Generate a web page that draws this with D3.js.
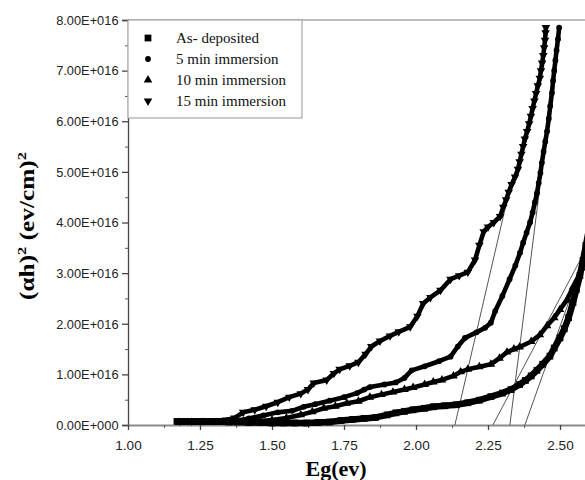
<!DOCTYPE html>
<html>
<head>
<meta charset="utf-8">
<script src="https://cdn.jsdelivr.net/npm/d3@7"></script>
<style>
  html, body { margin: 0; padding: 0; background: #fff; }
  svg { display: block; }
</style>
</head>
<body>
<svg id="chart" width="585" height="480"></svg>
<script>
// Tauc plot: (αh)² versus photon energy for the film series
const xTicks = [1.00, 1.25, 1.50, 1.75, 2.00, 2.25, 2.50];
const xTickLabels = ["1.00", "1.25", "1.50", "1.75", "2.00", "2.25", "2.50"];
const xMinorTicks = [1.125, 1.375, 1.625, 1.875, 2.125, 2.375];
const yTicks = [0, 1, 2, 3, 4, 5, 6, 7, 8];               // units of 1E16
const yTickLabels = ["0.00E+000", "1.00E+016", "2.00E+016", "3.00E+016", "4.00E+016",
                     "5.00E+016", "6.00E+016", "7.00E+016", "8.00E+016"];
const yMinorTicks = [0.5, 1.5, 2.5, 3.5, 4.5, 5.5, 6.5, 7.5];

const seriesNames = ["As- deposited", "5 min immersion", "10 min immersion", "15 min immersion"];

// [Eg (eV), (αh)² in units of 1E16]
const asDeposited = [
  [1.17,0.07],[1.20,0.07],[1.23,0.07],[1.26,0.07],[1.29,0.07],[1.32,0.07],[1.35,0.06],[1.38,0.06],
  [1.42,0.05],[1.46,0.05],[1.50,0.04],[1.54,0.04],[1.58,0.04],[1.62,0.04],[1.66,0.05],[1.70,0.06],
  [1.74,0.09],[1.78,0.11],[1.82,0.13],[1.86,0.15],[1.90,0.20],[1.93,0.24],[1.96,0.27],[1.99,0.30],
  [2.03,0.33],[2.06,0.36],[2.10,0.38],[2.14,0.40],[2.18,0.44],[2.22,0.49],[2.26,0.56],[2.30,0.63],
  [2.33,0.70],[2.36,0.80],[2.38,0.88],[2.40,0.97],[2.42,1.08],[2.44,1.20],[2.465,1.36],[2.48,1.52],
  [2.50,1.72],[2.515,1.90],[2.53,2.12],[2.545,2.42],[2.557,2.68],[2.569,2.95],[2.58,3.25],[2.59,3.55],
  [2.60,3.85]
];
const min5 = [
  [1.18,0.06],[1.22,0.06],[1.26,0.06],[1.30,0.07],[1.34,0.07],[1.38,0.09],[1.42,0.13],[1.47,0.19],
  [1.52,0.25],[1.57,0.28],[1.61,0.36],[1.65,0.41],[1.70,0.48],[1.75,0.55],[1.795,0.63],[1.82,0.70],
  [1.84,0.75],[1.89,0.80],[1.93,0.84],[1.96,0.93],[1.985,1.08],[2.03,1.16],[2.08,1.26],[2.12,1.35],
  [2.145,1.55],[2.17,1.72],[2.21,1.83],[2.24,1.92],[2.26,2.02],[2.275,2.25],[2.30,2.55],[2.325,2.88],
  [2.345,3.15],[2.361,3.40],[2.372,3.60],[2.384,3.80],[2.396,4.00],[2.405,4.20],[2.413,4.40],[2.420,4.58],
  [2.426,4.78],[2.432,4.98],[2.437,5.18],[2.443,5.40],[2.449,5.60],[2.455,5.80],[2.461,6.05],[2.466,6.30],
  [2.472,6.56],[2.476,6.80],[2.480,7.00],[2.484,7.20],[2.488,7.40],[2.493,7.62],[2.497,7.85]
];
const min10 = [
  [1.18,0.05],[1.22,0.05],[1.26,0.05],[1.30,0.05],[1.34,0.05],[1.38,0.06],[1.42,0.07],[1.46,0.08],
  [1.50,0.10],[1.55,0.14],[1.60,0.20],[1.64,0.26],[1.68,0.33],[1.72,0.37],[1.76,0.43],[1.80,0.47],
  [1.84,0.55],[1.88,0.60],[1.92,0.65],[1.96,0.70],[1.99,0.74],[2.03,0.80],[2.06,0.85],[2.09,0.89],
  [2.13,0.97],[2.155,1.05],[2.18,1.10],[2.22,1.15],[2.26,1.20],[2.29,1.32],[2.316,1.44],[2.34,1.50],
  [2.36,1.54],[2.40,1.65],[2.43,1.78],[2.455,1.96],[2.48,2.12],[2.50,2.28],[2.524,2.47],[2.545,2.72],
  [2.56,2.88],[2.575,3.10],[2.587,3.40],[2.60,3.75]
];
const min15 = [
  [1.18,0.08],[1.22,0.08],[1.26,0.09],[1.30,0.09],[1.34,0.10],[1.37,0.14],[1.40,0.25],[1.44,0.30],
  [1.48,0.37],[1.52,0.45],[1.56,0.55],[1.60,0.62],[1.625,0.70],[1.645,0.83],[1.69,0.89],[1.715,1.02],
  [1.735,1.10],[1.77,1.17],[1.80,1.24],[1.825,1.40],[1.845,1.55],[1.875,1.66],[1.91,1.76],[1.94,1.84],
  [1.98,1.94],[2.005,2.15],[2.025,2.40],[2.05,2.52],[2.085,2.66],[2.12,2.88],[2.15,2.95],[2.18,3.02],
  [2.205,3.26],[2.22,3.55],[2.235,3.82],[2.25,3.91],[2.27,4.00],[2.292,4.12],[2.303,4.30],[2.313,4.45],
  [2.322,4.60],[2.332,4.75],[2.344,4.90],[2.354,5.05],[2.360,5.20],[2.366,5.35],[2.372,5.50],[2.378,5.65],
  [2.386,5.80],[2.393,5.95],[2.399,6.10],[2.405,6.25],[2.411,6.40],[2.417,6.55],[2.423,6.70],[2.430,6.85],
  [2.434,7.00],[2.438,7.15],[2.442,7.30],[2.445,7.45],[2.448,7.60],[2.450,7.75],[2.451,7.85]
];

// straight-line extrapolations of the absorption edges down to the energy axis
const tangent15 = [[2.135,0],[2.33,4.78]];
const tangent5  = [[2.326,0],[2.43,4.70]];
const tangent10 = [[2.267,0],[2.60,3.58]];
const tangentAs = [[2.378,0],[2.60,3.54]];

const svg = d3.select("#chart");
const plotLeft = 128, plotTop = 20, plotBottom = 425;
const x = d3.scaleLinear().domain([1.0, 2.6]).range([plotLeft, plotLeft + 1.6 * 288]);
const y = d3.scaleLinear().domain([0, 8]).range([plotBottom, plotTop]);

svg.append("rect").attr("width", 585).attr("height", 480).attr("fill", "#fff");

svg.append("defs").append("clipPath").attr("id", "plotClip")
  .append("rect").attr("x", plotLeft - 6).attr("y", plotTop - 6)
  .attr("width", x(2.6) - plotLeft + 6).attr("height", plotBottom - plotTop + 12);

// top frame line
svg.append("line").attr("x1", plotLeft).attr("x2", 585).attr("y1", plotTop).attr("y2", plotTop)
  .attr("stroke", "#bdbdbd").attr("stroke-width", 2);

// axes
const tickFont = "'Liberation Sans', Arial, sans-serif";
const yAxis = svg.append("g").attr("transform", `translate(${plotLeft},0)`)
  .call(d3.axisLeft(y).tickValues(yTicks).tickFormat((d, i) => yTickLabels[i]).tickSize(6).tickPadding(5));
yAxis.select(".domain").attr("stroke", "#444").attr("stroke-width", 1.3);
yAxis.selectAll(".tick line").attr("stroke", "#444").attr("stroke-width", 1.3);
yAxis.selectAll("text").attr("font-family", tickFont).attr("font-size", 13.5).attr("fill", "#222")
  .attr("x", -10).attr("transform", "scale(0.95,1)");
svg.append("g").attr("transform", `translate(${plotLeft},0)`)
  .call(d3.axisLeft(y).tickValues(yMinorTicks).tickFormat("").tickSize(3))
  .call(g => g.select(".domain").remove())
  .selectAll("line").attr("stroke", "#555");

const xAxis = svg.append("g").attr("transform", `translate(0,${plotBottom})`)
  .call(d3.axisBottom(x).tickValues(xTicks).tickFormat((d, i) => xTickLabels[i]).tickSize(5).tickPadding(6).tickSizeOuter(0));
xAxis.select(".domain").attr("stroke", "#8a8a8a").attr("stroke-width", 2.2);
xAxis.selectAll(".tick line").attr("stroke", "#444").attr("stroke-width", 1.3);
xAxis.selectAll("text").attr("font-family", tickFont).attr("font-size", 13.5).attr("fill", "#222")
  .attr("y", 15).attr("dy", "0.71em");
svg.append("g").attr("transform", `translate(0,${plotBottom})`)
  .call(d3.axisBottom(x).tickValues(xMinorTicks).tickFormat("").tickSize(3))
  .call(g => g.select(".domain").remove())
  .selectAll("line").attr("stroke", "#555");

// axis titles
svg.append("text")
  .attr("transform", "translate(336,476)")
  .attr("text-anchor", "middle")
  .attr("font-family", "'Liberation Serif', 'Times New Roman', serif")
  .attr("font-weight", "bold").attr("font-size", 22)
  .text("Eg(ev)");

// vertical title, stretched along its length to span 148 px
const yTitle = svg.append("text")
  .attr("text-anchor", "middle")
  .attr("font-family", "'Liberation Serif', 'Times New Roman', serif")
  .attr("font-weight", "bold").attr("font-size", 20);
yTitle.append("tspan").text("(αh)");
yTitle.append("tspan").attr("dy", -8).attr("font-size", 13).text("2");
yTitle.append("tspan").attr("dy", 8).text(" (ev/cm)");
yTitle.append("tspan").attr("dy", -8).attr("font-size", 13).text("2");
const titleLen = yTitle.node().getComputedTextLength();
yTitle.attr("transform", `translate(34,226) rotate(-90) scale(${148 / titleLen},1)`);

// data curves
const plot = svg.append("g").attr("clip-path", "url(#plotClip)");
const line = d3.line().x(d => x(d[0])).y(d => y(d[1]));

const series = [
  { data: asDeposited, symbol: d3.symbolSquare,   size: 46, rot: 0,   width: 6.5 },
  { data: min5,        symbol: d3.symbolCircle,   size: 26, rot: 0,   width: 4.6 },
  { data: min10,       symbol: d3.symbolTriangle, size: 32, rot: 0,   width: 4.6 },
  { data: min15,       symbol: d3.symbolTriangle, size: 32, rot: 180, width: 4.6 }
];

// extrapolation lines
[tangent15, tangent5, tangent10, tangentAs].forEach(t => {
  plot.append("path").attr("d", line(t))
    .attr("fill", "none").attr("stroke", "#555").attr("stroke-width", 1);
});

series.forEach(s => {
  plot.append("path").attr("d", line(s.data))
    .attr("fill", "none").attr("stroke", "#000").attr("stroke-width", s.width)
    .attr("stroke-linejoin", "round");
  plot.selectAll(null).data(s.data).join("path")
    .attr("d", d3.symbol(s.symbol, s.size))
    .attr("transform", d => `translate(${x(d[0])},${y(d[1])}) rotate(${s.rot})`)
    .attr("fill", "#000");
});

// legend
const legend = svg.append("g");
legend.append("rect").attr("x", plotLeft).attr("y", plotTop).attr("width", 174).attr("height", 98)
  .attr("fill", "#fff").attr("stroke", "#a8a8a8").attr("stroke-width", 1.2);
series.forEach((s, i) => {
  const cy = 38 + i * 21;
  legend.append("path")
    .attr("d", d3.symbol(s.symbol, s.size))
    .attr("transform", `translate(148,${cy}) rotate(${s.rot})`)
    .attr("fill", "#000");
  legend.append("text").attr("x", 176).attr("y", cy + 5)
    .attr("font-family", "'Liberation Serif', 'Times New Roman', serif")
    .attr("font-size", 15).attr("fill", "#111")
    .text(seriesNames[i]);
});
</script>
</body>
</html>
